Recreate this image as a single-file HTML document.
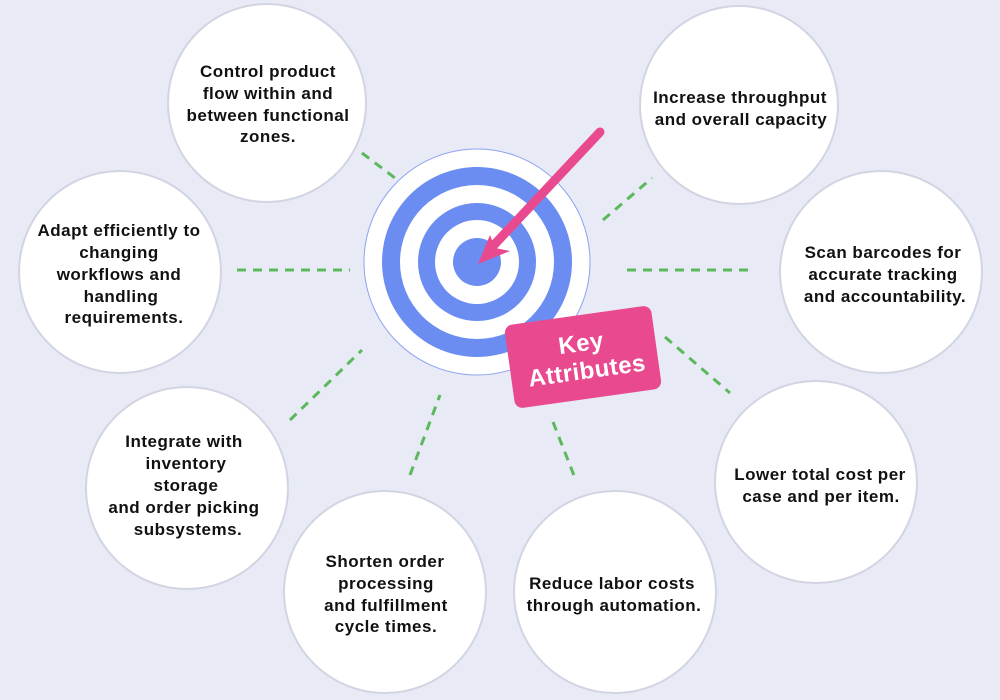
<!DOCTYPE html>
<html><head><meta charset="utf-8"><style>
html,body{margin:0;padding:0;background:#e8eaf5;}
svg{display:block;}
text{font-family:"Liberation Sans",Arial,sans-serif;font-weight:bold;font-size:17px;letter-spacing:0.5px;fill:#111;text-anchor:middle;}
</style></head><body>
<svg width="1000" height="700" viewBox="0 0 1000 700" xmlns="http://www.w3.org/2000/svg">
<rect width="1000" height="700" fill="#e8eaf5"/>
<g stroke="#5cb85c" stroke-width="3" stroke-dasharray="9,7" fill="none">
<line x1="362" y1="153" x2="395" y2="178"/>
<line x1="603" y1="220" x2="652" y2="178"/>
<line x1="237" y1="270" x2="350" y2="270"/>
<line x1="627" y1="270" x2="752" y2="270"/>
<line x1="290" y1="420" x2="362" y2="350"/>
<line x1="410" y1="475" x2="440" y2="395"/>
<line x1="553" y1="422" x2="575" y2="478"/>
<line x1="665" y1="337" x2="730" y2="393"/>
</g>
<g fill="#fff" stroke="#d2d4e2" stroke-width="2">
<circle cx="267" cy="103" r="99"/>
<circle cx="739" cy="105" r="99"/>
<circle cx="120" cy="272" r="101"/>
<circle cx="881" cy="272" r="101"/>
<circle cx="187" cy="488" r="101"/>
<circle cx="385" cy="592" r="101"/>
<circle cx="615" cy="592" r="101"/>
<circle cx="816" cy="482" r="101"/>
</g>
<circle cx="477" cy="262" r="113" fill="#fff" stroke="#8ea2f0" stroke-width="1"/>
<circle cx="477" cy="262" r="95" fill="#6b8df2"/>
<circle cx="477" cy="262" r="77" fill="#fff"/>
<circle cx="477" cy="262" r="59" fill="#6b8df2"/>
<circle cx="477" cy="262" r="42" fill="#fff"/>
<circle cx="477" cy="262" r="24" fill="#6b8df2"/>
<line x1="600" y1="132" x2="494" y2="245" stroke="#e8498f" stroke-width="9" stroke-linecap="round"/>
<polygon points="478,264 490,235 495,248 510,251" fill="#e8498f"/>
<g transform="translate(583,357) rotate(-8)">
<rect x="-74" y="-42" width="148" height="84" rx="8" fill="#e8498f"/>
<text x="0" y="-6" style="fill:#fff;font-size:24px">Key</text>
<text x="2" y="22" style="fill:#fff;font-size:24px">Attributes</text>
</g>
<text x="268" y="77">Control product</text>
<text x="268" y="99">flow within and</text>
<text x="268" y="121">between functional</text>
<text x="268" y="142">zones.</text>
<text x="740" y="103">Increase throughput</text>
<text x="741" y="125">and overall capacity</text>
<text x="119" y="236">Adapt efficiently to</text>
<text x="119" y="258">changing</text>
<text x="119" y="280">workflows and</text>
<text x="121" y="302">handling</text>
<text x="124" y="323">requirements.</text>
<text x="883" y="258">Scan barcodes for</text>
<text x="883" y="280">accurate tracking</text>
<text x="885" y="302">and accountability.</text>
<text x="184" y="447">Integrate with</text>
<text x="186" y="469">inventory</text>
<text x="186" y="491">storage</text>
<text x="184" y="513">and order picking</text>
<text x="188" y="535">subsystems.</text>
<text x="820" y="480">Lower total cost per</text>
<text x="821" y="502">case and per item.</text>
<text x="385" y="567">Shorten order</text>
<text x="386" y="589">processing</text>
<text x="386" y="611">and fulfillment</text>
<text x="386" y="632">cycle times.</text>
<text x="612" y="589">Reduce labor costs</text>
<text x="614" y="611">through automation.</text>
</svg>
</body></html>
